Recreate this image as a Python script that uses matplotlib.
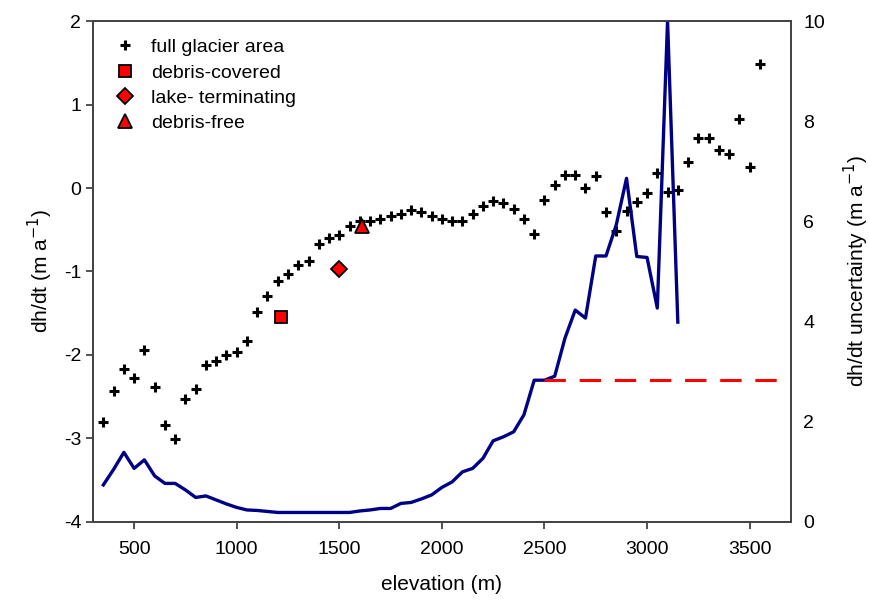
import matplotlib
matplotlib.use('Agg')
import matplotlib.pyplot as plt
import numpy as np

plt.rcParams['font.family'] = ['Liberation Sans', 'DejaVu Sans']
plt.rcParams['axes.unicode_minus'] = False

# full glacier area dh/dt (50 m elevation bins)
elev = [350, 400, 450, 500, 550, 600, 650, 700, 750, 800, 850, 900, 950, 1000,
        1050, 1100, 1150, 1200, 1250, 1300, 1350, 1400, 1450, 1500, 1550, 1600,
        1650, 1700, 1750, 1800, 1850, 1900, 1950, 2000, 2050, 2100, 2150, 2200,
        2250, 2300, 2350, 2400, 2450, 2500, 2550, 2600, 2650, 2700, 2750, 2800,
        2850, 2900, 2950, 3000, 3050, 3100, 3150, 3200, 3250, 3300, 3350, 3400,
        3450, 3500, 3550]
dhdt = [-2.80, -2.43, -2.17, -2.28, -1.94, -2.38, -2.84, -3.01, -2.53, -2.41,
        -2.12, -2.07, -2.00, -1.96, -1.83, -1.48, -1.29, -1.11, -1.03, -0.92,
        -0.87, -0.67, -0.60, -0.56, -0.46, -0.40, -0.40, -0.37, -0.34, -0.31,
        -0.26, -0.29, -0.34, -0.37, -0.39, -0.40, -0.31, -0.21, -0.15, -0.18,
        -0.25, -0.37, -0.55, -0.14, 0.04, 0.16, 0.16, 0.00, 0.14, -0.29,
        -0.52, -0.27, -0.17, -0.06, 0.18, -0.05, -0.02, 0.31, 0.60, 0.60,
        0.46, 0.41, 0.83, 0.25, 1.49]

# glacier type means
debris_cov = (1218, -1.55)
lake_term = (1497, -0.97)
debris_free = (1609, -0.45)

# uncertainty (right axis)
unc_elev = elev[:57]
unc = [0.74, 1.05, 1.39, 1.07, 1.24, 0.92, 0.77, 0.77, 0.64, 0.49, 0.52, 0.44,
       0.36, 0.29, 0.24, 0.23, 0.21, 0.19, 0.19, 0.19, 0.19, 0.19, 0.19, 0.19,
       0.19, 0.22, 0.24, 0.27, 0.27, 0.37, 0.39, 0.46, 0.54, 0.69, 0.80, 1.00,
       1.07, 1.27, 1.62, 1.70, 1.80, 2.14, 2.83, 2.83, 2.91, 3.67, 4.23, 4.07,
       5.31, 5.31, 5.93, 6.86, 5.30, 5.28, 4.27, 10.0, 3.99]
unc_limit = 2.83
unc_limit_start = 2500

fig = plt.figure(figsize=(8.7, 6.04), dpi=100)
ax = fig.add_axes([0.107, 0.1358, 0.8018, 0.8294])
ax2 = ax.twinx()

ax.plot(elev, dhdt, linestyle='none', marker='+', ms=7, mew=2.2, color='k',
        label='full glacier area')
ax.plot(*debris_cov, linestyle='none', marker='s', ms=8, mfc='red', mec='k', mew=1.3,
        label='debris-covered')
ax.plot(*lake_term, linestyle='none', marker='D', ms=8, mfc='red', mec='k', mew=1.3,
        label='lake- terminating')
ax.plot(*debris_free, linestyle='none', marker='^', ms=10, mfc='red', mec='k', mew=1.3,
        label='debris-free')

ax2.plot(unc_elev, unc, color='#000085', lw=2.4)
ax2.plot([unc_limit_start, 3700], [unc_limit, unc_limit], color='red', lw=2.2,
         dashes=(7, 4.5))

ax.set_xlim(300, 3700)
ax.set_ylim(-4, 2)
ax2.set_ylim(0, 10)
ax.set_xticks([500, 1000, 1500, 2000, 2500, 3000, 3500])
ax.set_yticks([-4, -3, -2, -1, 0, 1, 2])
ax2.set_yticks([0, 2, 4, 6, 8, 10])

for a in (ax, ax2):
    for s in a.spines.values():
        s.set_color('#444444')
        s.set_linewidth(1.3)
ax.tick_params(axis='both', direction='out', length=5, width=1.3, color='#444444',
               labelsize=14, top=False, right=False)
ax.tick_params(axis='x', pad=9)
ax2.tick_params(axis='y', length=0, labelsize=14, pad=9)

ax.set_xlabel('elevation (m)', fontsize=15, labelpad=12)
ax.set_ylabel('dh/dt (m a$^{-1}$)', fontsize=15, labelpad=6)
ax2.set_ylabel('dh/dt uncertainty (m a$^{-1}$)', fontsize=15, labelpad=12)

leg = ax.legend(loc='upper left', frameon=False, fontsize=14, handletextpad=0.6,
                labelspacing=0.4, borderaxespad=0.5, handlelength=1.5)

fig.savefig('out.png', dpi=100)
